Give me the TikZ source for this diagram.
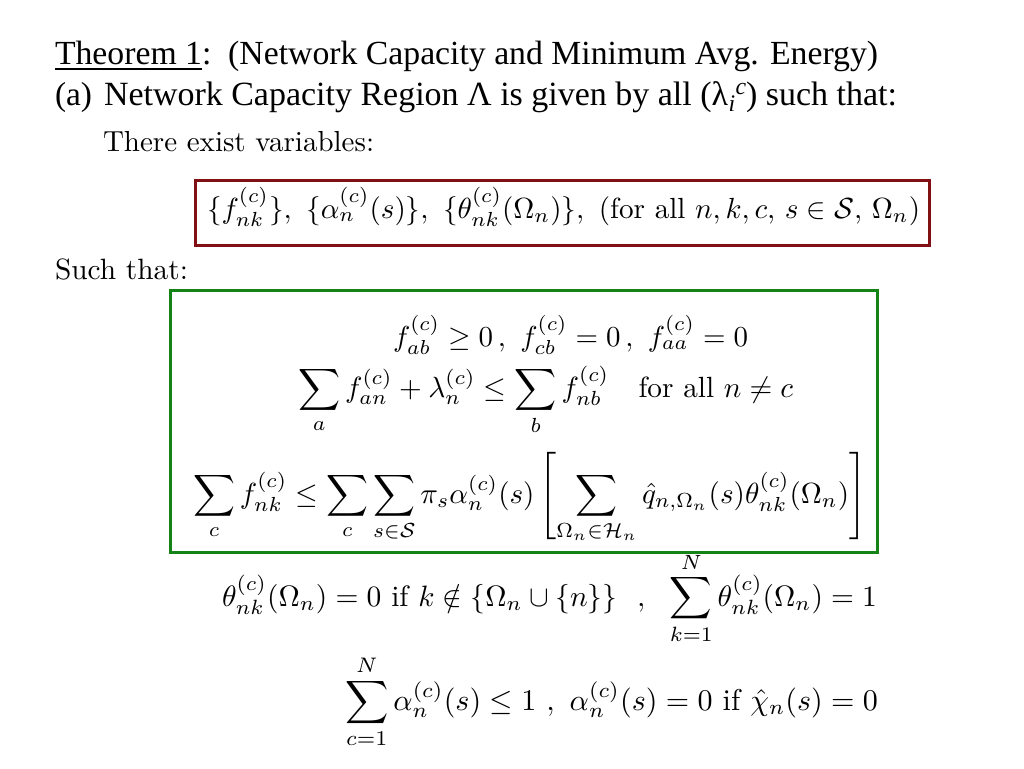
\documentclass[tikz,border=0pt]{standalone}
\usepackage{amsmath,amssymb}
\usepackage{fontspec}
\newfontfamily\tnr{Liberation Serif}
\definecolor{boxred}{RGB}{128,16,20}
\definecolor{boxgreen}{RGB}{20,130,20}
\tikzset{
  line/.style={anchor=base west, inner sep=0pt, outer sep=0pt},
  frame/.style={line width=3pt},
}
\begin{document}
\begin{tikzpicture}[x=1pt,y=-1pt]
\useasboundingbox[fill=white] (0,0) rectangle (1024,768);
% title
\node[line] (t1) at (55,64) {\resizebox{823pt}{!}{\tnr\underline{Theorem 1}:\ \ (Network Capacity and Minimum Avg. Energy)}};
\node[line] (t2a) at (55,105) {\resizebox{37pt}{!}{\tnr (a)}};
\node[line] (t2) at (104,105) {\resizebox{793pt}{!}{\tnr Network Capacity Region Λ is given by all (λ\kern0.02em\raisebox{-0.2em}{\scriptsize\itshape i}\kern0.01em\raisebox{0.3em}{\scriptsize\itshape c}) such that:}};
\node[line] (ex) at (103,151.5) {\resizebox{271pt}{!}{There exist variables:}};
% red box
\draw[frame,boxred] (195.5,180.5) rectangle (929.5,245);
\node[line] (vars) at (207,218) {\resizebox{713pt}{!}{$\{f^{(c)}_{nk}\},\ \{\alpha^{(c)}_n(s)\},\ \{\theta^{(c)}_{nk}(\Omega_n)\},\ (\text{for all } n,k,c,\, s\in\mathcal{S},\, \Omega_n)$}};
\node[line] (such) at (55,279.5) {\resizebox{133pt}{!}{Such that:}};
% green box
\draw[frame,boxgreen] (170.5,290.5) rectangle (877.5,552.5);
\node[line] (e1) at (393,346) {\resizebox{355pt}{!}{$f^{(c)}_{ab}\geq 0\,,\ f^{(c)}_{cb}=0\,,\ f^{(c)}_{aa}=0$}};
\node[line] (e2) at (298,397) {\resizebox{495pt}{!}{$\displaystyle\sum_a f^{(c)}_{an}+\lambda^{(c)}_n\leq\sum_b f^{(c)}_{nb}\quad\text{for all } n\neq c$}};
\node[line] (e3) at (193,503) {\resizebox{673pt}{!}{$\displaystyle\sum_c f^{(c)}_{nk}\leq\sum_c\sum_{s\in\mathcal{S}}\pi_s\alpha^{(c)}_n(s)\left[\sum_{\Omega_n\in\mathcal{H}_n}\hat{q}_{n,\Omega_n}(s)\theta^{(c)}_{nk}(\Omega_n)\right]$}};
% below
\node[line] (e4) at (222,606) {\resizebox{655pt}{!}{$\displaystyle\theta^{(c)}_{nk}(\Omega_n)=0\text{ if }k\notin\{\Omega_n\cup\{n\}\}\ \ ,\ \ \sum_{k=1}^N\theta^{(c)}_{nk}(\Omega_n)=1$}};
\node[line] (e5) at (345,710) {\resizebox{533pt}{!}{$\displaystyle\sum_{c=1}^N\alpha^{(c)}_n(s)\leq 1\ ,\ \alpha^{(c)}_n(s)=0\text{ if }\hat{\chi}_n(s)=0$}};
\end{tikzpicture}
\end{document}
